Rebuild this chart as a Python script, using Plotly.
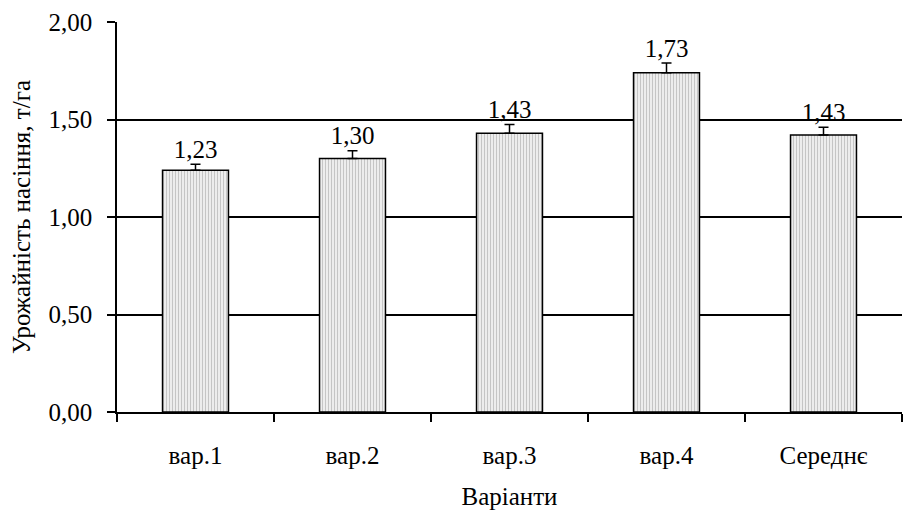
import plotly.graph_objects as go

categories = ["вар.1", "вар.2", "вар.3", "вар.4", "Середнє"]
values = [1.24, 1.30, 1.43, 1.74, 1.42]
errors = [0.03, 0.04, 0.045, 0.05, 0.04]
labels = ["1,23", "1,30", "1,43", "1,73", "1,43"]
y_ticks = [0, 0.5, 1.0, 1.5, 2.0]
y_tick_text = ["0,00", "0,50", "1,00", "1,50", "2,00"]

FONT = "Liberation Serif"
FS = 25

fig = go.Figure()
fig.add_trace(go.Bar(
    x=categories, y=values,
    marker=dict(color="white", line=dict(color="black", width=1.5),
                pattern=dict(shape="|", size=3, solidity=0.55, fgcolor="#8c8c8c", bgcolor="white")),
    error_y=dict(type="data", array=errors, arrayminus=[0]*len(errors), symmetric=False,
                 color="black", thickness=1.5, width=5),
    width=0.42,
    showlegend=False,
))
fig.add_trace(go.Scatter(
    x=categories, y=[v + e for v, e in zip(values, errors)],
    mode="text", text=labels, textposition="top center",
    textfont=dict(family=FONT, size=FS, color="black"),
    showlegend=False, hoverinfo="skip",
))

# page body has an 8px default margin, so the figure is shrunk by 8px
fig.update_layout(
    width=913, height=504,
    margin=dict(l=109, r=19, t=14, b=100),
    plot_bgcolor="white", paper_bgcolor="white",
    font=dict(family=FONT, size=FS, color="black"),
)
fig.update_xaxes(
    showline=True, linecolor="black", linewidth=1.5, automargin=False,
    ticks="outside", tickson="boundaries", ticklen=8, tickcolor="black", tickwidth=1.5,
    showgrid=False, ticklabelstandoff=20,
    title=dict(text="Варіанти", font=dict(family=FONT, size=FS), standoff=20),
    tickfont=dict(family=FONT, size=FS),
)
fig.update_yaxes(
    range=[0, 2.0], tickvals=y_ticks, ticktext=y_tick_text, automargin=False,
    showline=True, linecolor="black", linewidth=1.5,
    ticks="outside", ticklen=8, tickcolor="black", tickwidth=1.5,
    showgrid=True, gridcolor="black", gridwidth=1.5,
    zeroline=False, ticklabelstandoff=10,
    title=dict(text="Урожайність насіння, т/га", font=dict(family=FONT, size=FS), standoff=14),
    tickfont=dict(family=FONT, size=FS),
)

fig.write_html("out.html")
